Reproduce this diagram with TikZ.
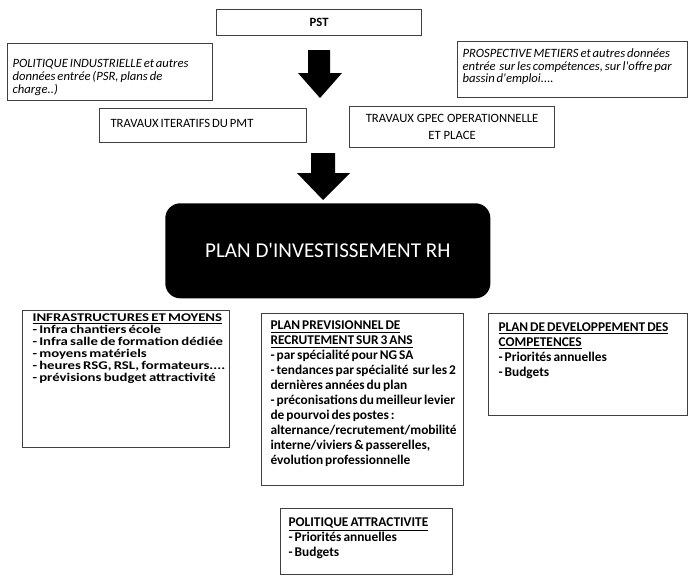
\documentclass[tikz,border=0pt]{standalone}
\usepackage{fontspec}
\setmainfont{Carlito}[Ligatures=TeXOff]
\usetikzlibrary{positioning}
\newcommand{\inbox}[5]{\parbox[t][#2][t]{#1}{\raggedright\leftskip=#3\lineskiplimit=-10pt\spaceskip=0.15em plus 0.1em\relax\vspace*{#4}#5}}

\begin{document}
\begin{tikzpicture}[x=0.025cm,y=-0.025cm,
 box/.style={draw=black!75,line width=0.8pt,anchor=north west,inner sep=0pt},
 topf/.style={font=\fontsize{9}{9.3}\selectfont},
 basf/.style={font=\bfseries\fontsize{9.5}{10.67}\selectfont}]
\useasboundingbox (0,0) rectangle (688,575);

\node[box,minimum width=5.125cm,minimum height=0.65cm,font=\bfseries\fontsize{9}{11}\selectfont] (pst) at (216,9) {PST};
\node[box,font=\itshape\fontsize{9}{9.3}\selectfont] (polind) at (7,43)
 {\inbox{5.125cm}{1.425cm}{0.125cm}{0.39cm}{POLITIQUE INDUSTRIELLE et autres\\données entrée (PSR, plans de\\charge..)}};
\node[box,font=\itshape\fontsize{9}{8.9}\selectfont] (prosp) at (457,41)
 {\inbox{5.75cm}{1.4cm}{0.125cm}{0.19cm}{PROSPECTIVE METIERS et autres données\\entrée~ sur les compétences, sur l'offre par\\bassin d'emploi....}};
\node[box,topf] (iter) at (99,108)
 {\inbox{5.175cm}{0.85cm}{0.275cm}{0.26cm}{TRAVAUX ITERATIFS DU PMT}};
\node[box,minimum width=5.125cm,minimum height=1.025cm,align=center,font=\fontsize{9}{12}\selectfont] (gpec) at (349,106)
 {TRAVAUX GPEC OPERATIONNELLE\\ET PLACE};

\fill (308,50) -- (330,50) -- (330,73) -- (342,73) -- (320,98) -- (298,73) -- (308,73) -- cycle;
\fill (311,153) -- (335,153) -- (335,173) -- (350,173) -- (323,200) -- (297,173) -- (311,173) -- cycle;

\node[anchor=north west,fill=black,rounded corners=0.375cm,minimum width=8.125cm,minimum height=2.375cm,
 text=white,font=\fontsize{15}{18}\selectfont] (rh) at (165,203) {PLAN D'INVESTISSEMENT RH};

\node[box,font=\bfseries\fontsize{10.5}{10.67}\selectfont] (infra) at (22,310)
 {\inbox{5.175cm}{3.425cm}{0.25cm}{0.09cm}{\scalebox{1}[0.8]{\parbox[t]{4.9cm}{\raggedright\spaceskip=0.15em plus 0.1em\relax
 \underline{INFRASTRUCTURES ET MOYENS}\\- Infra chantiers école\\- Infra salle de formation dédiée\\- moyens matériels\\- heures RSG, RSL, formateurs....\\- prévisions budget attractivité}}}};
\node[box,basf] (recru) at (261,313)
 {\inbox{5.05cm}{4.3cm}{0.225cm}{0.19cm}{\underline{PLAN PREVISIONNEL DE}\\\underline{RECRUTEMENT SUR 3 ANS}\\- par spécialité pour NG SA\\- tendances par spécialité~ sur les 2\\dernières années du plan\\- préconisations du meilleur levier\\de pourvoi des postes :\\alternance/recrutement/mobilité\\interne/viviers \& passerelles,\\évolution professionnelle}};
\node[box,basf] (compet) at (488,313)
 {\inbox{4.975cm}{2.55cm}{0.25cm}{0.22cm}{\underline{PLAN DE DEVELOPPEMENT DES}\\\underline{COMPETENCES}\\- Priorités annuelles\\- Budgets}};
\node[box,basf] (attract) at (280,508)
 {\inbox{4.3cm}{1.65cm}{0.2cm}{0.22cm}{\underline{POLITIQUE ATTRACTIVITE}\\- Priorités annuelles\\- Budgets}};
\end{tikzpicture}
\end{document}
